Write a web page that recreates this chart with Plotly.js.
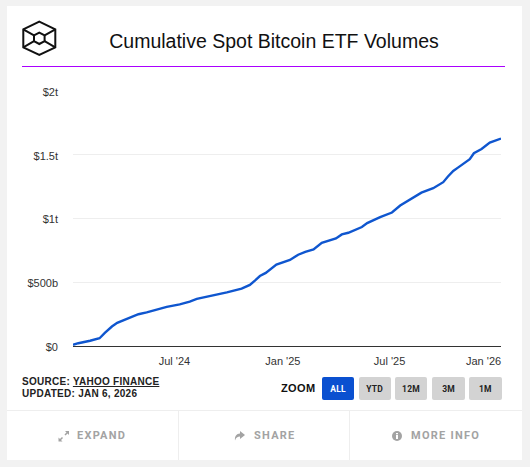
<!DOCTYPE html>
<html><head><meta charset="utf-8">
<script src="https://cdn.plot.ly/plotly-3.0.1.min.js"></script>
<style>
html,body{margin:0;padding:0;background:#f2f2f2;width:530px;height:467px;overflow:hidden}
.abs{position:absolute}
#card{left:7px;top:6px;width:515px;height:454px;background:#fff}
#chart{left:0;top:0;width:530px;height:467px}
#rule{left:22px;top:65.5px;width:483px;height:1px;background:#aa00ff}
#src{left:22px;top:376px;font:bold 10px/12px "Liberation Sans",Arial,sans-serif;letter-spacing:.27px;color:#222}
#src u{text-decoration:underline}
#zoomlbl{left:281px;top:382px;font:bold 11px/13px "Liberation Sans",Arial,sans-serif;color:#111;letter-spacing:.35px}
.btn{position:absolute;top:377px;height:23px;line-height:24px;background:#d3d3d3;border-radius:2px;text-align:center;font:bold 8.5px/24px Roboto,sans-serif;color:#222;letter-spacing:.2px}
.btn.on{background:#0a50d0;color:#fff}
.ln{background:#eeeeee}
.ft{position:absolute;top:429px;font:bold 11px/14px Roboto,sans-serif;letter-spacing:1.25px;color:#a3a3a3}
svg{position:absolute;overflow:visible}
</style></head><body>
<div id="card" class="abs"></div>
<div id="chart" class="abs"></div>
<div id="rule" class="abs"></div>
<svg style="left:0;top:0" width="80" height="60" fill="none" stroke="#111" stroke-width="2">
<path d="M39.3 21.7L55.3 29.3V47.3L39.3 55L23.3 47.3V29.3Z"/>
<path d="M39.3 32.6L44.6 35.3V41.2L39.3 44L34 41.2V35.3Z"/>
<path d="M23.3 29.3L34 35.3M55.3 29.3L44.6 35.3M23.3 47.3L34 41.2M55.3 47.3L44.6 41.2"/>
</svg>
<div id="src" class="abs">SOURCE: <u>YAHOO FINANCE</u><br>UPDATED: JAN 6, 2026</div>
<div id="zoomlbl" class="abs">ZOOM</div>
<div class="btn on" style="left:322px;width:32px">ALL</div>
<div class="btn" style="left:358.5px;width:32px">YTD</div>
<div class="btn" style="left:395px;width:32px">12M</div>
<div class="btn" style="left:432px;width:33px">3M</div>
<div class="btn" style="left:469px;width:32.5px">1M</div>
<div class="abs ln" style="left:7px;top:410px;width:515px;height:1px"></div>
<div class="abs ln" style="left:178px;top:411px;width:1px;height:49px"></div>
<div class="abs ln" style="left:349px;top:411px;width:1px;height:49px"></div>
<svg style="left:58px;top:430px" width="12" height="12" fill="none" stroke="#a3a3a3" stroke-width="1.5"><path d="M1.5 10.5L4.5 7.5M7 5L10 2"/><path d="M0.5 7.5V11.5H4.5ZM7 1H11V5Z" fill="#a3a3a3" stroke="none"/></svg>
<div class="ft" style="left:77px">EXPAND</div>
<svg style="left:234px;top:431px" width="11" height="10"><path d="M6 0L11 4L6 8V5.5C3.5 5.5 2 6.5 1 9.5C0.5 5 2.5 2.8 6 2.5Z" fill="#a3a3a3"/></svg>
<div class="ft" style="left:254px">SHARE</div>
<svg style="left:392px;top:431px" width="10" height="10"><circle cx="5" cy="5" r="5" fill="#a3a3a3"/><rect x="4" y="4" width="2" height="4" fill="#fff"/><rect x="4" y="2" width="2" height="1.3" fill="#fff"/></svg>
<div class="ft" style="left:411px">MORE INFO</div>
<script>
var dates = ["2024-01-11","2024-01-20","2024-02-09","2024-02-25","2024-03-05","2024-03-17","2024-03-26","2024-04-05","2024-04-17","2024-05-01","2024-05-15","2024-06-04","2024-06-18","2024-07-10","2024-07-27","2024-08-08","2024-08-30","2024-09-28","2024-10-23","2024-11-06","2024-11-15","2024-11-23","2024-12-03","2024-12-13","2024-12-21","2025-01-13","2025-01-27","2025-02-08","2025-02-22","2025-03-08","2025-03-19","2025-04-01","2025-04-11","2025-04-22","2025-05-15","2025-05-24","2025-06-15","2025-07-05","2025-07-19","2025-08-05","2025-08-24","2025-09-13","2025-09-30","2025-10-08","2025-10-17","2025-10-25","2025-11-14","2025-11-21","2025-12-04","2025-12-18","2026-01-06"];
var volumesBillion = [10,22,41,61,103,153,182,200,225,249,264,288,307,327,348,369,390,421,450,479,515,549,573,610,638,675,716,739,757,810,828,844,875,888,933,964,1011,1047,1102,1152,1203,1238,1285,1329,1373,1399,1465,1512,1545,1595,1627];
var yTickVals = [0,500,1000,1500,2000];
var yTickText = ["$0","$500b","$1t","$1.5t","$2t"];
var xTickVals = ["2024-07-01","2025-01-01","2025-07-01"];
var xTickText = ["Jul '24","Jan '25","Jul '25"];
var lastTick = "Jan '26";
var FONT = '"Liberation Sans", Arial, sans-serif';
Plotly.newPlot("chart",[{
  x:dates,y:volumesBillion,type:"scatter",mode:"lines",
  line:{color:"#0f56cf",width:2.4},hoverinfo:"skip"
}],{
  width:530,height:467,
  paper_bgcolor:"rgba(0,0,0,0)",plot_bgcolor:"rgba(0,0,0,0)",
  margin:{l:73,r:29,t:91,b:120.5},
  showlegend:false,
  title:{text:"Cumulative Spot Bitcoin ETF Volumes",font:{family:FONT,size:19.5,color:"#111"},x:274/530,xanchor:"center",y:1-41/467,yanchor:"middle"},
  xaxis:{type:"date",range:["2024-01-11","2026-01-06"],tickmode:"array",tickvals:xTickVals,ticktext:xTickText,
    showgrid:false,zeroline:false,showline:true,linecolor:"#333",linewidth:1,ticks:"",
    tickfont:{family:FONT,size:11,color:"#333"},ticklabelstandoff:5},
  yaxis:{range:[0,2000],tickmode:"array",tickvals:yTickVals,ticktext:yTickText,
    showgrid:true,gridcolor:"#eeeeee",gridwidth:1,zeroline:false,showline:false,ticks:"",
    tickfont:{family:FONT,size:11,color:"#333"},ticklabelstandoff:14,ticklabelshift:1},
  annotations:[{x:1,xref:"paper",y:0,yref:"paper",xanchor:"right",yanchor:"top",yshift:-8,xshift:1,showarrow:false,
    text:lastTick,font:{family:FONT,size:11,color:"#333"},borderpad:0}]
},{displayModeBar:false,staticPlot:true});
</script>
</body></html>
